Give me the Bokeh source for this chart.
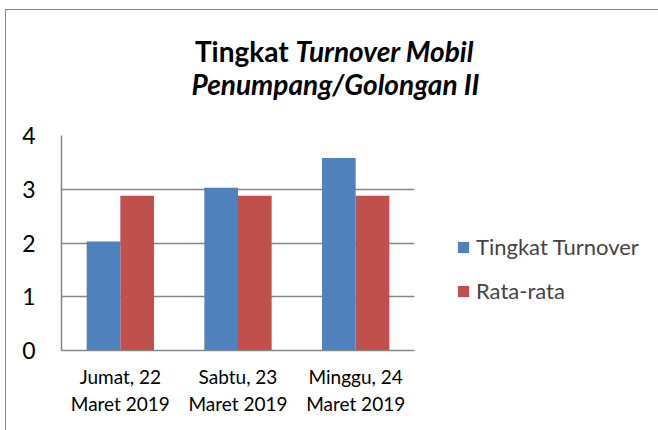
from bokeh.plotting import figure
from bokeh.layouts import column
from bokeh.models import FactorRange, Legend, LegendItem, FixedTicker, ColumnDataSource
from bokeh.core.properties import value
from bokeh.transform import dodge
from bokeh.embed import file_html
from bokeh.resources import INLINE

categories = ["Jumat, 22\nMaret 2019", "Sabtu, 23\nMaret 2019", "Minggu, 24\nMaret 2019"]
turnover = [2.03, 3.03, 3.58]
rata_rata = [2.88, 2.88, 2.88]
series_names = ["Tingkat Turnover", "Rata-rata"]
y_ticks = [0, 1, 2, 3, 4]
title_parts = ["Tingkat ", "Turnover Mobil", "Penumpang/Golongan II"]

BLUE = "#4F81BD"
RED = "#C0504D"
GRID = "#868686"
FONT = "Lato"

# ---- title strip (its frame is aligned with the chart frame's left edge) ----
tf = figure(frame_width=596, frame_height=100, x_range=(62, 658), y_range=(110.5, 10.5),
            min_border=0, x_axis_location=None, y_axis_location=None,
            output_backend="svg", toolbar_location=None)
tf.outline_line_color = None
tf.grid.visible = False
TS = "28px"
tf.text(x=[296], y=[50.5], text=[title_parts[0]], text_align="right", text_baseline="alphabetic",
        text_font=value(FONT), text_font_style=value("bold"), text_font_size=TS, text_color="black")
tf.text(x=[296], y=[50.5], text=[title_parts[1]], text_align="left", text_baseline="alphabetic",
        text_font=value(FONT), text_font_style=value("bold italic"), text_font_size=TS, text_color="black")
tf.text(x=[336], y=[84], text=[title_parts[2]], text_align="center", text_baseline="alphabetic",
        text_font=value(FONT), text_font_style=value("bold italic"), text_font_size=TS, text_color="black")

# ---- bar chart ----
src = ColumnDataSource(dict(cat=categories, turnover=turnover, rata=rata_rata))

p = figure(x_range=FactorRange(*categories), y_range=(0, 4),
           frame_width=353, frame_height=215,
           min_border_left=55, min_border_right=243, min_border_top=25, min_border_bottom=80,
           output_backend="svg", toolbar_location=None)
p.x_range.range_padding = 0
p.outline_line_color = None

r1 = p.vbar(x=dodge("cat", -0.143, range=p.x_range), top="turnover", width=0.286,
            source=src, fill_color=BLUE, line_color=None)
r2 = p.vbar(x=dodge("cat", 0.143, range=p.x_range), top="rata", width=0.286,
            source=src, fill_color=RED, line_color=None)

p.xgrid.grid_line_color = None
p.ygrid.grid_line_color = GRID
p.ygrid.grid_line_width = 1.5
p.yaxis.ticker = FixedTicker(ticks=y_ticks)

for ax in (p.xaxis[0], p.yaxis[0]):
    ax.axis_line_color = GRID
    ax.axis_line_width = 1.5
    ax.major_tick_line_color = None
    ax.minor_tick_line_color = None
    ax.major_label_text_font = FONT
    ax.major_label_text_color = "black"

p.yaxis.major_label_text_font_size = "23px"
p.yaxis.major_label_standoff = 20
p.xaxis.major_label_text_font_size = "19px"
p.xaxis.major_label_standoff = 8

legend = Legend(items=[LegendItem(label=series_names[0], renderers=[r1]),
                       LegendItem(label=series_names[1], renderers=[r2])],
                location=(42, 46), orientation="vertical")
legend.border_line_color = None
legend.background_fill_alpha = 0
legend.padding = 0
legend.margin = 0
legend.spacing = 17
legend.glyph_width = 14
legend.glyph_height = 14
legend.label_standoff = 6
legend.label_text_font = FONT
legend.label_text_font_size = "22px"
p.add_layout(legend, "right")

root = column(tf, p, spacing=0)
root.styles = {"margin-left": "5px", "margin-top": "9px",
               "border-left": "1.5px solid #8a8a8a", "border-top": "1.5px solid #8a8a8a"}

open("out.html", "w").write(file_html(root, INLINE))
